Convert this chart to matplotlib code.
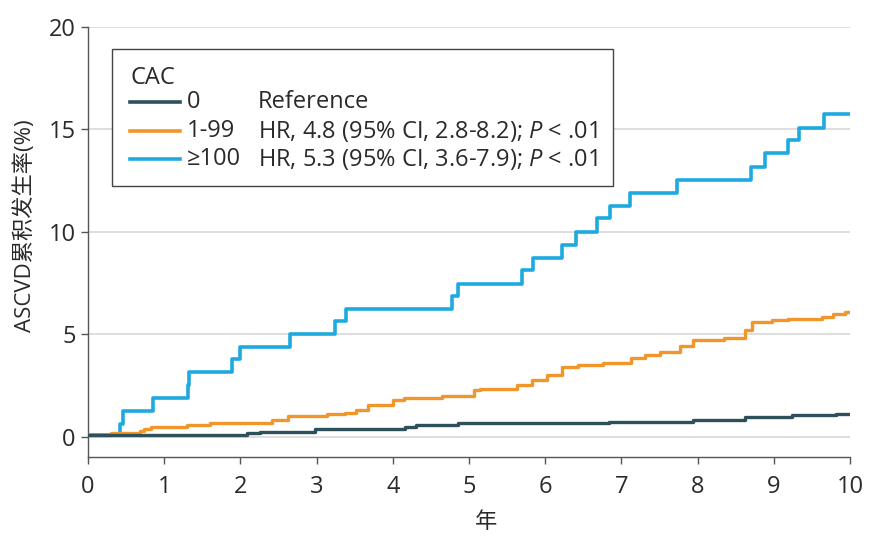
import matplotlib
matplotlib.use("Agg")
import matplotlib.pyplot as plt
from matplotlib.patches import Rectangle
from matplotlib.lines import Line2D

plt.rcParams['font.family'] = ['Open Sans', 'Noto Sans CJK SC', 'DejaVu Sans']
plt.rcParams['mathtext.fontset'] = 'custom'
plt.rcParams['mathtext.rm'] = 'Open Sans'
plt.rcParams['mathtext.it'] = 'Open Sans:italic'

# Kaplan-Meier style cumulative incidence (step, post)
t_cac0 = [0, 2.08, 2.26, 2.98, 4.16, 4.31, 4.85, 6.83, 7.94, 8.62, 9.24, 9.82, 10.0]
y_cac0 = [0.08, 0.15, 0.24, 0.36, 0.49, 0.57, 0.65, 0.73, 0.82, 0.93, 1.04, 1.11, 1.11]

t_cac1 = [0, 0.30, 0.68, 0.74, 0.82, 1.30, 1.60, 2.41, 2.62, 3.13, 3.37, 3.52, 3.68,
          4.00, 4.14, 4.64, 5.06, 5.14, 5.63, 5.82, 6.02, 6.22, 6.43, 6.76, 7.13, 7.31,
          7.51, 7.77, 7.94, 8.34, 8.62, 8.71, 8.97, 9.19, 9.63, 9.78, 9.93, 10.0]
y_cac1 = [0.08, 0.15, 0.25, 0.35, 0.46, 0.57, 0.68, 0.81, 0.98, 1.11, 1.17, 1.30, 1.55,
          1.79, 1.90, 1.99, 2.25, 2.30, 2.53, 2.77, 3.02, 3.38, 3.47, 3.61, 3.86, 3.96,
          4.15, 4.40, 4.72, 4.81, 5.21, 5.59, 5.67, 5.75, 5.86, 6.00, 6.09, 6.09]

t_cac100 = [0, 0.42, 0.46, 0.85, 1.31, 1.33, 1.89, 2.00, 2.65, 3.24, 3.39, 4.78, 4.85,
            5.69, 5.84, 6.22, 6.40, 6.68, 6.85, 7.11, 7.73, 8.70, 8.89, 9.19, 9.33, 9.66, 10.0]
y_cac100 = [0.08, 0.6, 1.25, 1.9, 2.5, 3.15, 3.77, 4.39, 5.02, 5.62, 6.23, 6.88, 7.47,
            8.12, 8.73, 9.37, 10.0, 10.65, 11.27, 11.9, 12.55, 13.18, 13.84, 14.46, 15.09, 15.74, 15.74]

groups = ['0', '1-99', '≥100']
notes = ['Reference',
         r'HR, 4.8 (95% CI, 2.8-8.2); $\mathit{P}$ < .01',
         r'HR, 5.3 (95% CI, 3.6-7.9); $\mathit{P}$ < .01']
colors = ['#2d505a', '#f0962a', '#1ea9df']
txt = '#2a2a2a'

fig = plt.figure(figsize=(8.76, 5.47), dpi=100)
ax = fig.add_axes([0.1005, 0.1645, 0.8699, 0.7861])

ax.step(t_cac100, y_cac100, where='post', color=colors[2], lw=2.6, zorder=3)
ax.step(t_cac1, y_cac1, where='post', color=colors[1], lw=2.4, zorder=3)
ax.step(t_cac0, y_cac0, where='post', color=colors[0], lw=2.4, zorder=4)

ax.set_xlim(0, 10)
ax.set_ylim(-1, 20)
ax.set_xticks(range(0, 11))
ax.set_yticks([0, 5, 10, 15, 20])
for yv in [0, 5, 10, 15, 20]:
    ax.axhline(yv, color='#d4d4d4', lw=1.1, zorder=1)

for s in ['top', 'right']:
    ax.spines[s].set_visible(False)
for s in ['left', 'bottom']:
    ax.spines[s].set_color('#555555')
    ax.spines[s].set_linewidth(1.0)
ax.tick_params(direction='out', length=5, width=1.0, color='#555555',
               labelsize=17, labelcolor=txt)
ax.tick_params(axis='x', pad=8)
ax.tick_params(axis='y', pad=4)

fig.text(25 / 876, 1 - 226 / 547, 'ASCVD累积发生率(%)', rotation=90,
         ha='center', va='center', fontsize=16, color=txt)
fig.text(486 / 876, 1 - 522 / 547, '年', ha='center', va='center',
         fontsize=16, color=txt)

# legend box, drawn by hand to get the two text columns
box = Rectangle((0.0315, 0.630), 0.6575, 0.319, transform=ax.transAxes,
                facecolor='white', edgecolor='#444444', lw=1.0, zorder=5)
ax.add_patch(box)
ax.text(0.0551, 0.881, 'CAC', transform=ax.transAxes, ha='left', va='center',
        fontsize=17, color=txt, zorder=6)
rows_y = [0.8256, 0.7581, 0.6930]
for g, n, c, yy in zip(groups, notes, colors, rows_y):
    ax.add_line(Line2D([0.0551, 0.1207], [yy, yy], transform=ax.transAxes,
                       color=c, lw=2.6, zorder=6))
    ax.text(0.1299, yy, g, transform=ax.transAxes, ha='left', va='center',
            fontsize=17, color=txt, zorder=6)
    ax.text(0.2231, yy, n, transform=ax.transAxes, ha='left', va='center',
            fontsize=17, color=txt, zorder=6)

fig.savefig('out.png', dpi=100)
